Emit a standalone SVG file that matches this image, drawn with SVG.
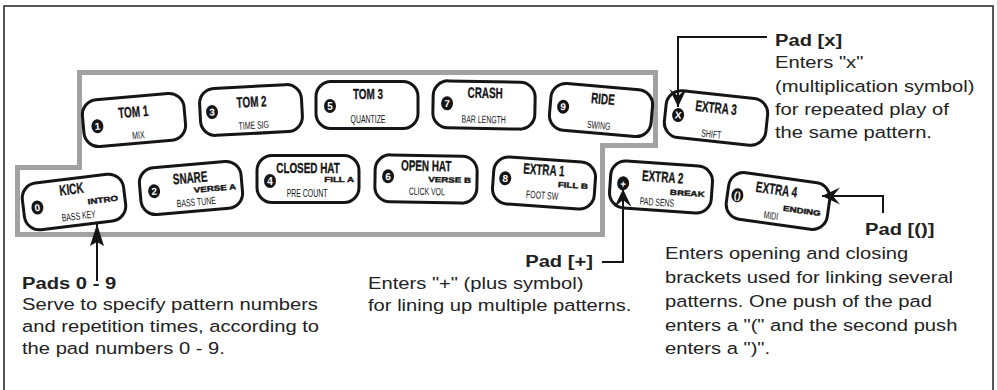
<svg xmlns="http://www.w3.org/2000/svg" width="997" height="390" viewBox="0 0 997 390">
<defs>
<style>
.frame{fill:none;stroke:#222;stroke-width:1.5}
.zone{fill:none;stroke:#a2a2a2;stroke-width:5}
.pad rect{fill:#fff;stroke:#151515;stroke-width:3}
.pad ellipse{fill:#151515}
.t{font-family:"Liberation Sans",Arial,sans-serif;font-weight:bold;font-size:15px;text-anchor:middle;fill:#151515;stroke:#151515;stroke-width:0.3}
.s{font-family:"Liberation Sans",Arial,sans-serif;font-size:10.5px;text-anchor:middle;fill:#151515}
.w{font-family:"Liberation Sans",Arial,sans-serif;font-weight:bold;font-size:7.5px;text-anchor:end;fill:#151515;stroke:#151515;stroke-width:0.4}
.n{font-family:"Liberation Sans",Arial,sans-serif;font-weight:bold;font-size:10px;text-anchor:middle;fill:#fff}
.conn path{fill:none;stroke:#151515;stroke-width:2}
.h{font-family:"Liberation Sans",Arial,sans-serif;font-weight:bold;font-size:17.4px;fill:#222}
.b{font-family:"Liberation Sans",Arial,sans-serif;font-size:17.4px;fill:#222}
</style>
<marker id="slim" markerUnits="userSpaceOnUse" markerWidth="24" markerHeight="16" viewBox="-23 -8 24 16" refX="0" refY="0" orient="auto"><path d="M0,0 L-22,-7 L-18,0 L-22,7 Z" fill="#151515"/></marker>
<marker id="barb" markerUnits="userSpaceOnUse" markerWidth="20" markerHeight="20" viewBox="-19 -10 20 20" refX="0" refY="0" orient="auto"><path d="M0,0 L-18,-8.5 L-11,0 L-18,8.5 Z" fill="#151515"/></marker>
</defs>
<rect width="997" height="390" fill="#fff"/>
<rect class="frame" x="4" y="6" width="989" height="420"/>
<polygon class="zone" points="79.5,72.5 655.5,72.5 655.5,145.5 602.5,145.5 602.5,234.5 17.5,234.5 17.5,167.5 79.5,167.5"/>

<g id="pad-tom1" class="pad" transform="translate(134,120) rotate(-5)">
<rect x="-51" y="-23.5" width="102" height="47" rx="15"/>
<ellipse cx="-37" cy="3" rx="6" ry="7"/><text class="n" x="-37" y="6.6">1</text>
<text class="t" transform="translate(0,-3) scale(0.66,1)">TOM 1</text>
<text class="s" transform="translate(3,19) scale(0.66,1)">MIX</text>
</g>
<g id="pad-tom2" class="pad" transform="translate(251,110) rotate(-3)">
<rect x="-51" y="-23.5" width="102" height="47" rx="15"/>
<ellipse cx="-39" cy="0" rx="6" ry="7"/><text class="n" x="-39" y="3.6">3</text>
<text class="t" transform="translate(1,-3) scale(0.66,1)">TOM 2</text>
<text class="s" transform="translate(2,19) scale(0.66,1)">TIME SIG</text>
</g>
<g id="pad-tom3" class="pad" transform="translate(367,105) rotate(0)">
<rect x="-51" y="-23.5" width="102" height="47" rx="15"/>
<ellipse cx="-37" cy="1" rx="6" ry="7"/><text class="n" x="-37" y="4.6">5</text>
<text class="t" transform="translate(1,-6) scale(0.66,1)">TOM 3</text>
<text class="s" transform="translate(1,18) scale(0.66,1)">QUANTIZE</text>
</g>
<g id="pad-crash" class="pad" transform="translate(484,105) rotate(1)">
<rect x="-51" y="-23.5" width="102" height="47" rx="15"/>
<ellipse cx="-37" cy="-1" rx="6" ry="7"/><text class="n" x="-37" y="2.6">7</text>
<text class="t" transform="translate(1,-7) scale(0.66,1)">CRASH</text>
<text class="s" transform="translate(0,18) scale(0.66,1)">BAR LENGTH</text>
</g>
<g id="pad-ride" class="pad" transform="translate(601,110) rotate(5)">
<rect x="-51" y="-23.5" width="102" height="47" rx="15"/>
<ellipse cx="-38" cy="0" rx="6" ry="7"/><text class="n" x="-38" y="3.6">9</text>
<text class="t" transform="translate(1,-6) scale(0.66,1)">RIDE</text>
<text class="s" transform="translate(-1,19) scale(0.66,1)">SWING</text>
</g>
<g id="pad-extra3" class="pad" transform="translate(716,118) rotate(6)">
<rect x="-51" y="-23.5" width="102" height="47" rx="15"/>
<ellipse cx="-38" cy="1" rx="6" ry="7"/><text class="n" x="-38" y="4.6">X</text>
<text class="t" transform="translate(-1,-5) scale(0.66,1)">EXTRA 3</text>
<text class="s" transform="translate(-3,20) scale(0.66,1)">SHIFT</text>
</g>

<g id="pad-kick" class="pad" transform="translate(74,202) rotate(-7)">
<rect x="-51" y="-23.5" width="102" height="47" rx="15"/>
<ellipse cx="-37" cy="1" rx="6" ry="7"/><text class="n" x="-37" y="4.6">0</text>
<text class="t" transform="translate(-1,-8) scale(0.66,1)">KICK</text>
<text class="w" transform="translate(44,4) scale(1.3,1)">INTRO</text>
<text class="s" transform="translate(3,18) scale(0.66,1)">BASS KEY</text>
</g>
<g id="pad-snare" class="pad" transform="translate(191,188) rotate(-5)">
<rect x="-51" y="-23.5" width="102" height="47" rx="15"/>
<ellipse cx="-37" cy="0" rx="6" ry="7"/><text class="n" x="-37" y="3.6">2</text>
<text class="t" transform="translate(0,-5) scale(0.66,1)">SNARE</text>
<text class="w" transform="translate(45,5) scale(1.3,1)">VERSE A</text>
<text class="s" transform="translate(4,18) scale(0.66,1)">BASS TUNE</text>
</g>
<g id="pad-closedhat" class="pad" transform="translate(308,179) rotate(0)">
<rect x="-51" y="-23.5" width="102" height="47" rx="15"/>
<ellipse cx="-38" cy="2" rx="6" ry="7"/><text class="n" x="-38" y="5.6">4</text>
<text class="t" transform="translate(0,-6) scale(0.66,1)">CLOSED HAT</text>
<text class="w" transform="translate(46,3) scale(1.3,1)">FILL A</text>
<text class="s" transform="translate(-1,18) scale(0.66,1)">PRE COUNT</text>
</g>
<g id="pad-openhat" class="pad" transform="translate(426,179) rotate(1)">
<rect x="-51" y="-23.5" width="102" height="47" rx="15"/>
<ellipse cx="-38" cy="-2" rx="6" ry="7"/><text class="n" x="-38" y="1.6">6</text>
<text class="t" transform="translate(0,-8) scale(0.66,1)">OPEN HAT</text>
<text class="w" transform="translate(45,3) scale(1.3,1)">VERSE B</text>
<text class="s" transform="translate(1,16) scale(0.66,1)">CLICK VOL</text>
</g>
<g id="pad-extra1" class="pad" transform="translate(544,183) rotate(4)">
<rect x="-51" y="-23.5" width="102" height="47" rx="15"/>
<ellipse cx="-39" cy="-2" rx="6" ry="7"/><text class="n" x="-39" y="1.6">8</text>
<text class="t" transform="translate(-1,-8) scale(0.66,1)">EXTRA 1</text>
<text class="w" transform="translate(44,3) scale(1.3,1)">FILL B</text>
<text class="s" transform="translate(-1,16) scale(0.66,1)">FOOT SW</text>
</g>
<g id="pad-extra2" class="pad" transform="translate(661,187) rotate(4)">
<rect x="-51" y="-23.5" width="102" height="47" rx="15"/>
<ellipse cx="-38" cy="-1" rx="6" ry="7"/><text class="n" x="-38" y="3.2" font-size="12">+</text>
<text class="t" transform="translate(1,-5) scale(0.66,1)">EXTRA 2</text>
<text class="w" transform="translate(44,7) scale(1.3,1)">BREAK</text>
<text class="s" transform="translate(-3,19) scale(0.66,1)">PAD SENS</text>
</g>
<g id="pad-extra4" class="pad" transform="translate(778,201) rotate(8)">
<rect x="-51" y="-23.5" width="102" height="47" rx="15"/>
<ellipse cx="-41" cy="0" rx="6" ry="7"/><text class="n" x="-41" y="3.6">()</text>
<text class="t" transform="translate(-3,-6) scale(0.66,1)">EXTRA 4</text>
<text class="w" transform="translate(44,9) scale(1.3,1)">ENDING</text>
<text class="s" transform="translate(-5,19) scale(0.66,1)">MIDI</text>
</g>

<g id="connectors" class="conn">
<path d="M97,281 V224" marker-end="url(#slim)"/>
<path d="M602,262 H623 V189" marker-end="url(#barb)"/>
<path d="M767,37 H678 V107" marker-end="url(#barb)"/>
<path d="M883,213 V196 H822" marker-end="url(#barb)"/>
</g>

<g id="label-pads" transform="translate(22,0) scale(1.16,1)">
<text class="h" y="289">Pads 0 - 9</text>
<text class="b" y="310">Serve to specify pattern numbers</text>
<text class="b" y="332">and repetition times, according to</text>
<text class="b" y="354">the pad numbers 0 - 9.</text>
</g>
<g id="label-plus">
<g transform="translate(593,0) scale(1.16,1)"><text class="h" y="267" text-anchor="end">Pad [+]</text></g>
<g transform="translate(368,0) scale(1.16,1)">
<text class="b" y="289">Enters "+" (plus symbol)</text>
<text class="b" y="311">for lining up multiple patterns.</text>
</g>
</g>
<g id="label-x" transform="translate(775,0) scale(1.16,1)">
<text class="h" y="46">Pad [x]</text>
<text class="b" y="68.5">Enters "x"</text>
<text class="b" y="92">(multiplication symbol)</text>
<text class="b" y="115">for repeated play of</text>
<text class="b" y="138">the same pattern.</text>
</g>
<g id="label-paren">
<g transform="translate(865,0) scale(1.16,1)"><text class="h" y="235">Pad [()]</text></g>
<g transform="translate(665,0) scale(1.16,1)">
<text class="b" y="259">Enters opening and closing</text>
<text class="b" y="283">brackets used for linking several</text>
<text class="b" y="307">patterns. One push of the pad</text>
<text class="b" y="331">enters a "(" and the second push</text>
<text class="b" y="354">enters a ")".</text>
</g>
</g>
</svg>
